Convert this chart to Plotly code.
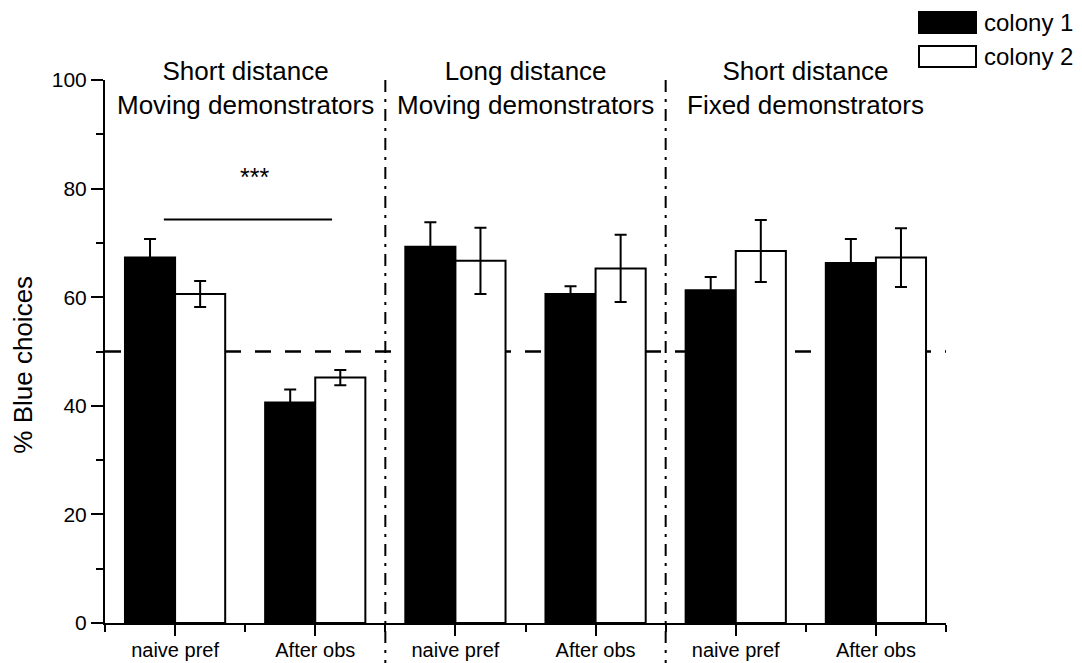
import plotly.graph_objects as go

# ---- data ----
conditions = ["naive pref", "After obs", "naive pref", "After obs", "naive pref", "After obs"]
group_titles = ["Short distance<br>Moving demonstrators",
                "Long distance<br>Moving demonstrators",
                "Short distance<br>Fixed demonstrators"]
series_names = ["colony 1", "colony 2"]
colony1_vals = [67.3, 40.6, 69.3, 60.6, 61.3, 66.3]
colony1_err = [3.4, 2.4, 4.5, 1.4, 2.4, 4.4]
colony2_vals = [60.6, 45.2, 66.7, 65.3, 68.5, 67.3]
colony2_err = [2.4, 1.4, 6.1, 6.2, 5.7, 5.4]
chance_level = 50
sig_level = 74.3
sig_text = "***"
y_ticks = [0, 20, 40, 60, 80, 100]
y_minor_ticks = [10, 30, 50, 70, 90]
y_title = "% Blue choices"

FONT = "Arial, 'Liberation Sans', sans-serif"

# numeric positions: each condition occupies 2 units
xpos = [2 * i + 1 for i in range(len(conditions))]
x_min, x_max = 0, 2 * len(conditions)
x_minor = [2 * i for i in range(len(conditions) + 1)]
y_min, y_max = 0, 100

fig = go.Figure()
fig.add_trace(go.Bar(
    x=xpos, y=colony1_vals, name=series_names[0],
    marker=dict(color="black", line=dict(color="black", width=2)),
    error_y=dict(type="data", array=colony1_err, visible=True,
                 color="black", thickness=2, width=6),
))
fig.add_trace(go.Bar(
    x=xpos, y=colony2_vals, name=series_names[1],
    marker=dict(color="white", line=dict(color="black", width=2)),
    error_y=dict(type="data", array=colony2_err, visible=True,
                 color="black", thickness=2, width=6),
))

shapes = []
# chance line
shapes.append(dict(type="line", xref="x", yref="y", x0=x_min, x1=x_max,
                   y0=chance_level, y1=chance_level, layer="below",
                   line=dict(color="black", width=2.5, dash="16px,14px")))
# separators between experiment groups (extend below the axis)
n_groups = len(group_titles)
span = (x_max - x_min) / n_groups
for g in range(1, n_groups):
    xs = (g * span) / (x_max - x_min)
    shapes.append(dict(type="line", xref="x domain", yref="y domain",
                       x0=xs, x1=xs, y0=1.0, y1=-0.08,
                       line=dict(color="black", width=2, dash="12px,7px,3px,7px")))
# significance bar over first group
shapes.append(dict(type="line", xref="x", yref="y",
                   x0=xpos[0] - 0.16, x1=xpos[1] + 0.24,
                   y0=sig_level, y1=sig_level,
                   line=dict(color="black", width=2)))

annotations = []
annotations.append(dict(x=(xpos[0] + xpos[1]) / 2 + 0.14, y=sig_level + 7.8,
                        xref="x", yref="y", text=sig_text, showarrow=False,
                        font=dict(family=FONT, size=25, color="black")))
for g, t in enumerate(group_titles):
    annotations.append(dict(x=x_min + (g + 0.5) * span, y=98.6, xref="x", yref="y",
                            text=t, showarrow=False, yanchor="middle", xanchor="center",
                            font=dict(family=FONT, size=26, color="black")))
# y-axis title
annotations.append(dict(x=-0.098, y=0.475, xref="paper", yref="paper",
                        text=y_title, showarrow=False, textangle=-90,
                        xanchor="center", yanchor="middle",
                        font=dict(family=FONT, size=26, color="black")))

# custom legend (large rectangles)
L, W, T, B = 105, 841, 80, 623
def px_x(p):
    return (p - L) / W
def px_y(p):
    return (B - p) / (B - T)
leg_fill = ["black", "white"]
for i, nm in enumerate(series_names):
    top = 12 + i * 34
    shapes.append(dict(type="rect", xref="paper", yref="paper",
                       x0=px_x(919), x1=px_x(976), y0=px_y(top), y1=px_y(top + 21),
                       fillcolor=leg_fill[i], line=dict(color="black", width=2)))
    annotations.append(dict(x=px_x(982), y=px_y(top + 10.5), xref="paper", yref="paper",
                            text=nm, showarrow=False, xanchor="left", yanchor="middle",
                            font=dict(family=FONT, size=24, color="black")))

fig.update_layout(
    width=1082, height=663,
    margin=dict(l=L, r=1082 - L - W, t=T, b=663 - B, pad=0, autoexpand=False),
    plot_bgcolor="white", paper_bgcolor="white",
    barmode="group", bargap=0.285, bargroupgap=0,
    showlegend=False,
    shapes=shapes, annotations=annotations,
    font=dict(family=FONT, color="black"),
)
fig.update_xaxes(
    range=[x_min, x_max], tickmode="array", tickvals=xpos, ticktext=conditions,
    ticks="outside", ticklen=11, tickwidth=2, tickcolor="black", automargin=False,
    ticklabelstandoff=-3,
    showline=True, linecolor="black", linewidth=2, showgrid=False, zeroline=False,
    tickfont=dict(family=FONT, size=20, color="black"),
    minor=dict(tickmode="array", tickvals=x_minor, ticks="outside", ticklen=7,
               tickwidth=2, tickcolor="black", showgrid=False),
)
fig.update_yaxes(
    range=[y_min, y_max], tickmode="array", tickvals=y_ticks,
    ticks="outside", ticklen=12, tickwidth=2, tickcolor="black", automargin=False,
    showline=True, linecolor="black", linewidth=2, showgrid=False, zeroline=False,
    tickfont=dict(family=FONT, size=21, color="black"),
    minor=dict(tickmode="array", tickvals=y_minor_ticks, ticks="outside", ticklen=7,
               tickwidth=2, tickcolor="black", showgrid=False),
)

fig.write_html("out.html", config={"displayModeBar": False},
               post_script="document.body.style.margin='0';")
